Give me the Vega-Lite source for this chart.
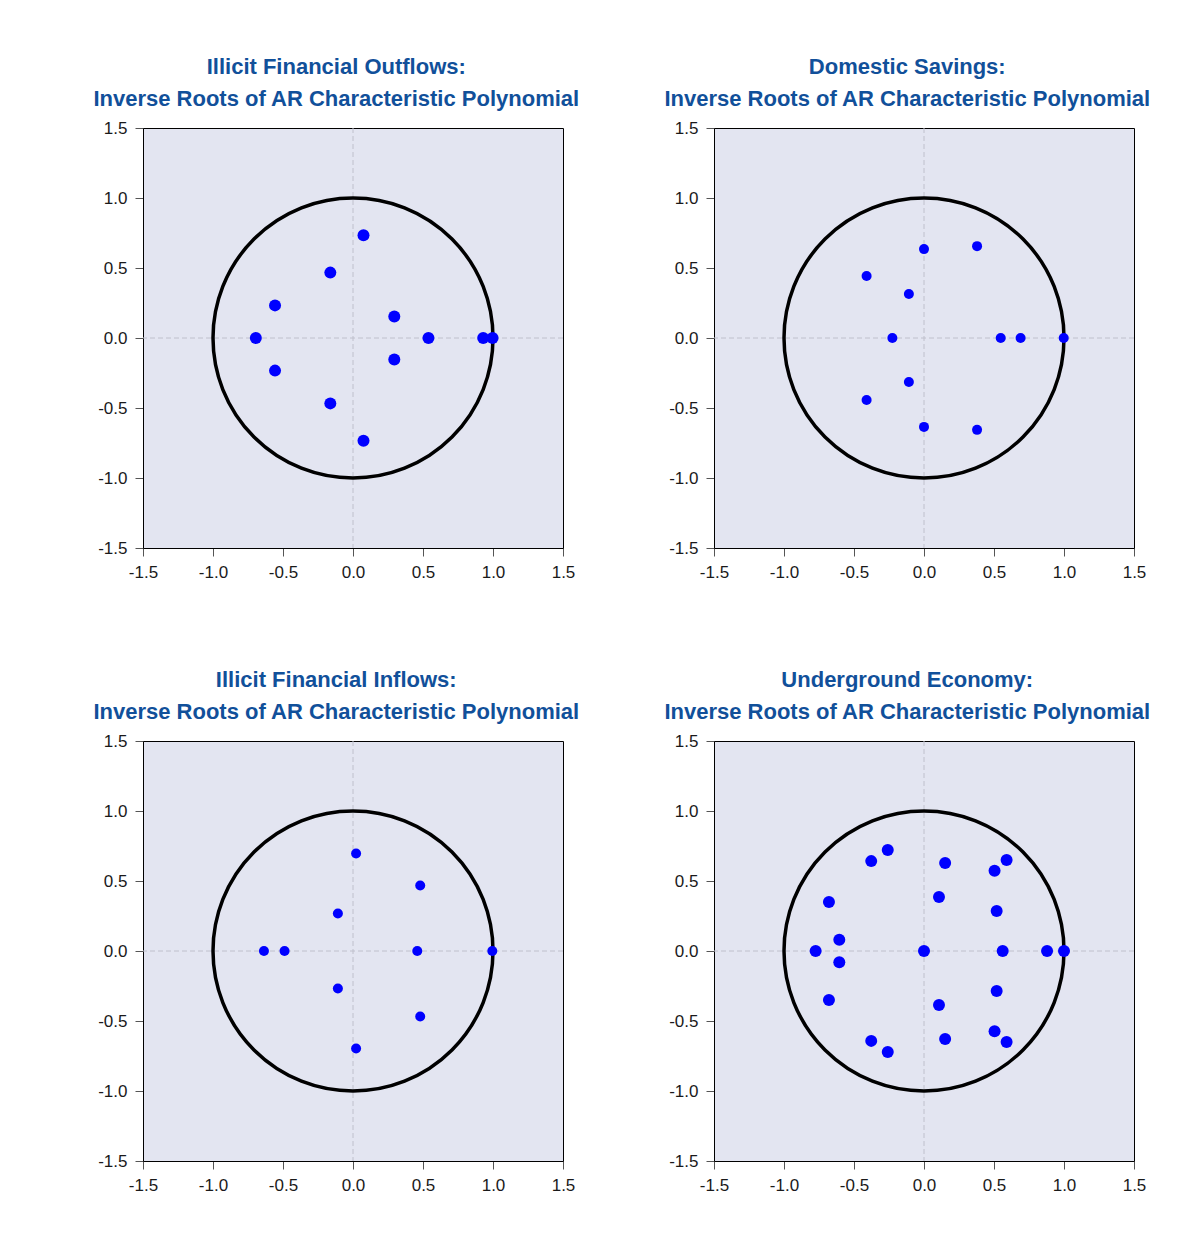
{
  "$schema": "https://vega.github.io/schema/vega-lite/v6.json",
  "background": "white",
  "padding": {"left": 92, "top": 55, "right": 10, "bottom": 10},
  "datasets": {
    "outflows": [
      {"x": 0.075, "y": 0.734}, {"x": 0.075, "y": -0.734},
      {"x": -0.162, "y": 0.467}, {"x": -0.162, "y": -0.467},
      {"x": -0.557, "y": 0.233}, {"x": -0.557, "y": -0.233},
      {"x": -0.694, "y": 0},
      {"x": 0.295, "y": 0.153}, {"x": 0.295, "y": -0.153},
      {"x": 0.539, "y": 0}, {"x": 0.93, "y": 0}, {"x": 0.997, "y": 0}
    ],
    "savings": [
      {"x": 0.0, "y": 0.635}, {"x": 0.0, "y": -0.635},
      {"x": 0.379, "y": 0.656}, {"x": 0.379, "y": -0.656},
      {"x": -0.41, "y": 0.443}, {"x": -0.41, "y": -0.443},
      {"x": -0.108, "y": 0.314}, {"x": -0.108, "y": -0.314},
      {"x": -0.226, "y": 0}, {"x": 0.548, "y": 0}, {"x": 0.69, "y": 0}, {"x": 0.998, "y": 0}
    ],
    "inflows": [
      {"x": 0.022, "y": 0.696}, {"x": 0.022, "y": -0.696},
      {"x": 0.48, "y": 0.468}, {"x": 0.48, "y": -0.468},
      {"x": -0.108, "y": 0.268}, {"x": -0.108, "y": -0.268},
      {"x": -0.636, "y": 0}, {"x": -0.489, "y": 0}, {"x": 0.459, "y": 0}, {"x": 0.995, "y": 0}
    ],
    "underground": [
      {"x": -0.259, "y": 0.721}, {"x": -0.259, "y": -0.721},
      {"x": -0.377, "y": 0.642}, {"x": -0.377, "y": -0.642},
      {"x": 0.151, "y": 0.629}, {"x": 0.151, "y": -0.629},
      {"x": 0.59, "y": 0.65}, {"x": 0.59, "y": -0.65},
      {"x": 0.504, "y": 0.573}, {"x": 0.504, "y": -0.573},
      {"x": -0.679, "y": 0.35}, {"x": -0.679, "y": -0.35},
      {"x": 0.107, "y": 0.386}, {"x": 0.107, "y": -0.386},
      {"x": 0.519, "y": 0.286}, {"x": 0.519, "y": -0.286},
      {"x": -0.605, "y": 0.08}, {"x": -0.605, "y": -0.08},
      {"x": -0.774, "y": 0}, {"x": 0.0, "y": 0}, {"x": 0.562, "y": 0}, {"x": 0.879, "y": 0}, {"x": 1.0, "y": 0}
    ],
    "origin": [{"x": 0, "y": 0}]
  },
  "config": {
    "view": {"fill": "#e3e5f1", "stroke": "black", "strokeWidth": 1},
    "axis": {
      "labelFont": "Liberation Sans", "labelFontSize": 17, "labelColor": "#1a1a1a",
      "domainColor": "black", "domainWidth": 1, "tickColor": "#555555", "tickSize": 8,
      "labelPadding": 8, "grid": false, "title": null, "labelFlush": false, "labelOverlap": false
    },
    "title": {
      "font": "Liberation Sans", "fontSize": 22, "fontWeight": "bold", "color": "#11509a",
      "lineHeight": 32, "frame": "bounds", "anchor": "middle", "offset": 8
    }
  },
  "spacing": 87,
  "vconcat": [
    {
      "spacing": 82,
      "hconcat": [
        {
          "width": 420, "height": 420,
          "title": {"text": ["Illicit Financial Outflows:", "Inverse Roots of AR Characteristic Polynomial"]},
          "layer": [
            {"data": {"name": "origin"}, "mark": {"type": "rule", "color": "#bfc0cc", "strokeWidth": 1, "strokeDash": [5, 3]}, "encoding": {"x": {"field": "x", "type": "quantitative", "scale": {"domain": [-1.5, 1.5], "nice": false, "zero": false}, "axis": {"values": [-1.5, -1, -0.5, 0, 0.5, 1, 1.5], "labelExpr": "replace(format(datum.value, '.1f'), '\u2212', '-')"}}}},
            {"data": {"name": "origin"}, "mark": {"type": "rule", "color": "#bfc0cc", "strokeWidth": 1, "strokeDash": [5, 3]}, "encoding": {"y": {"field": "y", "type": "quantitative", "scale": {"domain": [-1.5, 1.5], "nice": false, "zero": false}, "axis": {"values": [-1.5, -1, -0.5, 0, 0.5, 1, 1.5], "labelExpr": "replace(format(datum.value, '.1f'), '\u2212', '-')"}}}},
            {"data": {"name": "origin"}, "mark": {"type": "point", "shape": "circle", "size": 78400, "filled": false, "stroke": "black", "strokeWidth": 3.5, "opacity": 1}, "encoding": {"x": {"field": "x", "type": "quantitative"}, "y": {"field": "y", "type": "quantitative"}}},
            {"data": {"name": "outflows"}, "mark": {"type": "circle", "size": 144, "color": "#0000ff", "opacity": 1}, "encoding": {"x": {"field": "x", "type": "quantitative"}, "y": {"field": "y", "type": "quantitative"}}}
          ]
        },
        {
          "width": 420, "height": 420,
          "title": {"text": ["Domestic Savings:", "Inverse Roots of AR Characteristic Polynomial"]},
          "layer": [
            {"data": {"name": "origin"}, "mark": {"type": "rule", "color": "#bfc0cc", "strokeWidth": 1, "strokeDash": [5, 3]}, "encoding": {"x": {"field": "x", "type": "quantitative", "scale": {"domain": [-1.5, 1.5], "nice": false, "zero": false}, "axis": {"values": [-1.5, -1, -0.5, 0, 0.5, 1, 1.5], "labelExpr": "replace(format(datum.value, '.1f'), '\u2212', '-')"}}}},
            {"data": {"name": "origin"}, "mark": {"type": "rule", "color": "#bfc0cc", "strokeWidth": 1, "strokeDash": [5, 3]}, "encoding": {"y": {"field": "y", "type": "quantitative", "scale": {"domain": [-1.5, 1.5], "nice": false, "zero": false}, "axis": {"values": [-1.5, -1, -0.5, 0, 0.5, 1, 1.5], "labelExpr": "replace(format(datum.value, '.1f'), '\u2212', '-')"}}}},
            {"data": {"name": "origin"}, "mark": {"type": "point", "shape": "circle", "size": 78400, "filled": false, "stroke": "black", "strokeWidth": 3.5, "opacity": 1}, "encoding": {"x": {"field": "x", "type": "quantitative"}, "y": {"field": "y", "type": "quantitative"}}},
            {"data": {"name": "savings"}, "mark": {"type": "circle", "size": 100, "color": "#0000ff", "opacity": 1}, "encoding": {"x": {"field": "x", "type": "quantitative"}, "y": {"field": "y", "type": "quantitative"}}}
          ]
        }
      ]
    },
    {
      "spacing": 82,
      "hconcat": [
        {
          "width": 420, "height": 420,
          "title": {"text": ["Illicit Financial Inflows:", "Inverse Roots of AR Characteristic Polynomial"]},
          "layer": [
            {"data": {"name": "origin"}, "mark": {"type": "rule", "color": "#bfc0cc", "strokeWidth": 1, "strokeDash": [5, 3]}, "encoding": {"x": {"field": "x", "type": "quantitative", "scale": {"domain": [-1.5, 1.5], "nice": false, "zero": false}, "axis": {"values": [-1.5, -1, -0.5, 0, 0.5, 1, 1.5], "labelExpr": "replace(format(datum.value, '.1f'), '\u2212', '-')"}}}},
            {"data": {"name": "origin"}, "mark": {"type": "rule", "color": "#bfc0cc", "strokeWidth": 1, "strokeDash": [5, 3]}, "encoding": {"y": {"field": "y", "type": "quantitative", "scale": {"domain": [-1.5, 1.5], "nice": false, "zero": false}, "axis": {"values": [-1.5, -1, -0.5, 0, 0.5, 1, 1.5], "labelExpr": "replace(format(datum.value, '.1f'), '\u2212', '-')"}}}},
            {"data": {"name": "origin"}, "mark": {"type": "point", "shape": "circle", "size": 78400, "filled": false, "stroke": "black", "strokeWidth": 3.5, "opacity": 1}, "encoding": {"x": {"field": "x", "type": "quantitative"}, "y": {"field": "y", "type": "quantitative"}}},
            {"data": {"name": "inflows"}, "mark": {"type": "circle", "size": 100, "color": "#0000ff", "opacity": 1}, "encoding": {"x": {"field": "x", "type": "quantitative"}, "y": {"field": "y", "type": "quantitative"}}}
          ]
        },
        {
          "width": 420, "height": 420,
          "title": {"text": ["Underground Economy:", "Inverse Roots of AR Characteristic Polynomial"]},
          "layer": [
            {"data": {"name": "origin"}, "mark": {"type": "rule", "color": "#bfc0cc", "strokeWidth": 1, "strokeDash": [5, 3]}, "encoding": {"x": {"field": "x", "type": "quantitative", "scale": {"domain": [-1.5, 1.5], "nice": false, "zero": false}, "axis": {"values": [-1.5, -1, -0.5, 0, 0.5, 1, 1.5], "labelExpr": "replace(format(datum.value, '.1f'), '\u2212', '-')"}}}},
            {"data": {"name": "origin"}, "mark": {"type": "rule", "color": "#bfc0cc", "strokeWidth": 1, "strokeDash": [5, 3]}, "encoding": {"y": {"field": "y", "type": "quantitative", "scale": {"domain": [-1.5, 1.5], "nice": false, "zero": false}, "axis": {"values": [-1.5, -1, -0.5, 0, 0.5, 1, 1.5], "labelExpr": "replace(format(datum.value, '.1f'), '\u2212', '-')"}}}},
            {"data": {"name": "origin"}, "mark": {"type": "point", "shape": "circle", "size": 78400, "filled": false, "stroke": "black", "strokeWidth": 3.5, "opacity": 1}, "encoding": {"x": {"field": "x", "type": "quantitative"}, "y": {"field": "y", "type": "quantitative"}}},
            {"data": {"name": "underground"}, "mark": {"type": "circle", "size": 144, "color": "#0000ff", "opacity": 1}, "encoding": {"x": {"field": "x", "type": "quantitative"}, "y": {"field": "y", "type": "quantitative"}}}
          ]
        }
      ]
    }
  ]
}
